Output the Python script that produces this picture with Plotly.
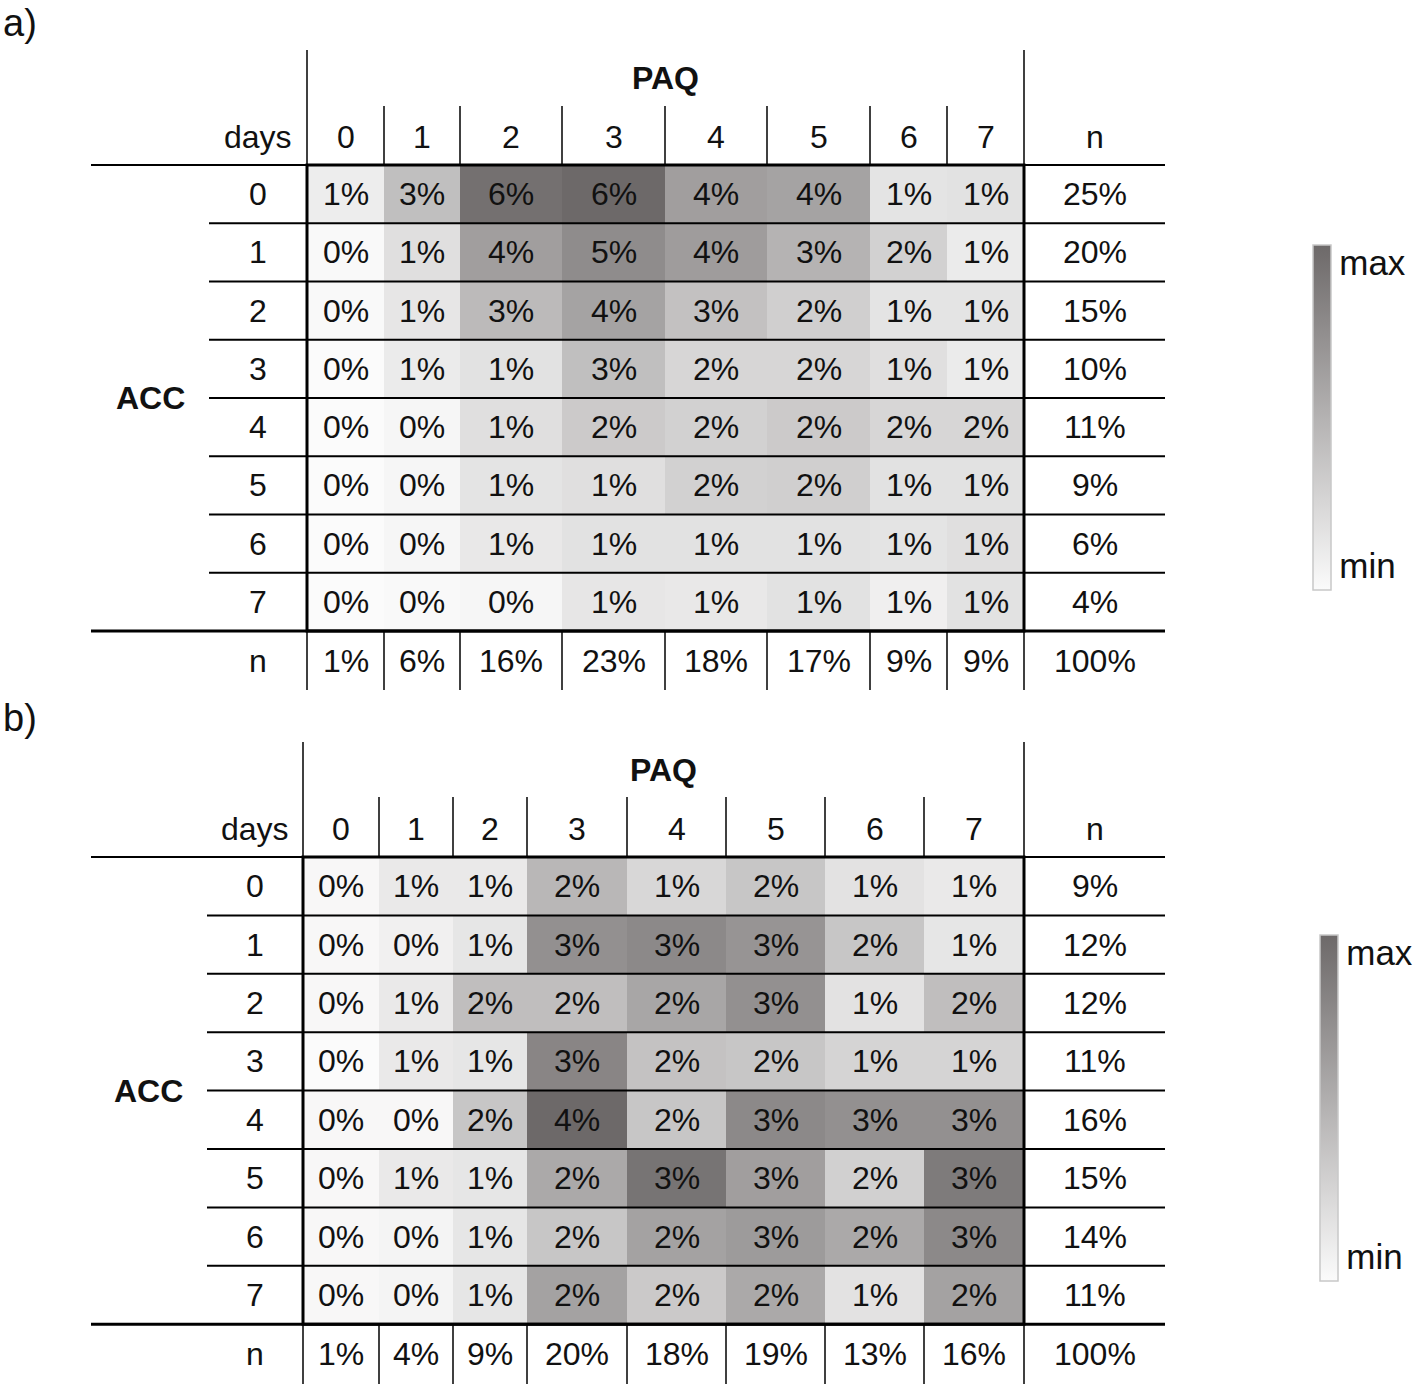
import plotly.graph_objects as go

# ── data ─────────────────────────────────────────────────────────────────────
days = ["0", "1", "2", "3", "4", "5", "6", "7"]

# panel a: ACC days (rows) x PAQ days (columns), shown percentages
pct_a = [
    [1, 3, 6, 6, 4, 4, 1, 1],
    [0, 1, 4, 5, 4, 3, 2, 1],
    [0, 1, 3, 4, 3, 2, 1, 1],
    [0, 1, 1, 3, 2, 2, 1, 1],
    [0, 0, 1, 2, 2, 2, 2, 2],
    [0, 0, 1, 1, 2, 2, 1, 1],
    [0, 0, 1, 1, 1, 1, 1, 1],
    [0, 0, 0, 1, 1, 1, 1, 1],
]
# unrounded values estimated from the grey level of each cell
shade_a = [
    [0.8, 2.8, 6.2, 6.5, 4.2, 4.0, 1.2, 1.3],
    [0.3, 1.4, 4.2, 5.0, 4.3, 3.3, 2.0, 0.9],
    [0.3, 1.1, 3.0, 4.0, 2.7, 2.1, 1.2, 1.2],
    [0.2, 0.9, 1.3, 2.8, 1.8, 1.8, 1.4, 0.9],
    [0.2, 0.4, 1.4, 2.3, 2.0, 2.3, 1.8, 1.8],
    [0.2, 0.4, 1.2, 1.4, 2.0, 2.1, 1.3, 1.3],
    [0.2, 0.4, 1.0, 1.3, 1.3, 1.3, 1.2, 1.4],
    [0.2, 0.3, 0.4, 1.1, 1.0, 1.3, 0.7, 1.3],
]
row_n_a = [25, 20, 15, 10, 11, 9, 6, 4]
col_n_a = [1, 6, 16, 23, 18, 17, 9, 9]

# panel b
pct_b = [
    [0, 1, 1, 2, 1, 2, 1, 1],
    [0, 0, 1, 3, 3, 3, 2, 1],
    [0, 1, 2, 2, 2, 3, 1, 2],
    [0, 1, 1, 3, 2, 2, 1, 1],
    [0, 0, 2, 4, 2, 3, 3, 3],
    [0, 1, 1, 2, 3, 3, 2, 3],
    [0, 0, 1, 2, 2, 3, 2, 3],
    [0, 0, 1, 2, 2, 2, 1, 2],
]
shade_b = [
    [0.2, 0.6, 0.6, 2.0, 1.1, 1.6, 0.8, 0.6],
    [0.2, 0.4, 0.7, 3.1, 3.3, 3.0, 1.6, 0.7],
    [0.2, 0.6, 1.8, 1.8, 2.5, 3.1, 0.8, 1.8],
    [0.1, 0.6, 0.7, 3.4, 1.7, 1.6, 1.2, 1.2],
    [0.2, 0.2, 1.6, 4.2, 1.6, 3.3, 3.1, 3.1],
    [0.2, 0.6, 0.7, 2.4, 3.9, 2.7, 1.3, 3.7],
    [0.2, 0.3, 0.7, 1.6, 2.6, 2.8, 2.4, 3.3],
    [0.2, 0.3, 0.7, 2.6, 1.5, 2.4, 0.8, 2.6],
]
row_n_b = [9, 12, 12, 11, 16, 15, 14, 11]
col_n_b = [1, 4, 9, 20, 18, 19, 13, 16]

total = 100

# ── layout geometry (page pixels) ────────────────────────────────────────────
W, H = 1418, 1384
FONT = "Liberation Sans, Arial, sans-serif"
GREYS = [[0, "#fbfbfb"], [1, "#6d6969"]]

panels = [
    dict(label="a)", label_y=23, pct=pct_a, shade=shade_a, row_n=row_n_a, col_n=col_n_a,
         top=50, head_div=106, head_bot=165, row_h=58.25, n_bot=690,
         cols=[307, 384, 460, 562, 665, 767, 870, 947, 1024],
         n_right=1165, left_outer=91, left_inner=209, row_lab_x=258, acc_x=150,
         paq_y=78, head_y=137, days_x=294, cbar_x=1313, cbar_top=245, cbar_len=345),
    dict(label="b)", label_y=718, pct=pct_b, shade=shade_b, row_n=row_n_b, col_n=col_n_b,
         top=742, head_div=797, head_bot=857, row_h=58.4, n_bot=1384,
         cols=[303, 379, 453, 527, 627, 726, 825, 924, 1024],
         n_right=1165, left_outer=91, left_inner=207, row_lab_x=255, acc_x=148,
         paq_y=770, head_y=829, days_x=291, cbar_x=1320, cbar_top=935, cbar_len=346),
]

fig = go.Figure()
shapes = []
notes = []


def line(x0, y0, x1, y1, w=1.5):
    shapes.append(dict(type="line", xref="x", yref="y", x0=x0, y0=y0, x1=x1, y1=y1,
                       line=dict(color="black", width=w)))


def note(x, y, text, size=32, bold=False, xanchor="center"):
    if bold:
        text = f"<b>{text}</b>"
    notes.append(dict(x=x, y=y, xref="x", yref="y", text=text, showarrow=False,
                      xanchor=xanchor, yanchor="middle",
                      font=dict(family=FONT, size=size, color="#111")))


for p in panels:
    cols = p["cols"]
    rows = [p["head_bot"] + i * p["row_h"] for i in range(len(days) + 1)]
    grid_bot = rows[-1]
    zmin = min(min(r) for r in p["shade"])
    zmax = max(max(r) for r in p["shade"])

    fig.add_trace(go.Heatmap(
        x=cols, y=rows, z=p["shade"],
        text=p["pct"], texttemplate="%{text}%",
        textfont=dict(family=FONT, size=32, color="#111"),
        colorscale=GREYS, zmin=zmin, zmax=zmax, hoverinfo="skip",
        colorbar=dict(
            x=p["cbar_x"] / W, xanchor="left", xpad=0,
            y=1 - p["cbar_top"] / H, yanchor="top", ypad=0,
            len=p["cbar_len"], lenmode="pixels", thickness=18,
            outlinecolor="#c8c8c8", outlinewidth=1.5,
            tickvals=[zmin + 0.07 * (zmax - zmin), zmin + 0.95 * (zmax - zmin)],
            ticktext=["min", "max"], ticks="",
            tickfont=dict(family=FONT, size=35, color="#111"),
        ),
    ))

    # header
    note(20, p["label_y"], p["label"], size=38)
    note((cols[0] + cols[-1]) / 2, p["paq_y"], "PAQ", size=32, bold=True)
    note(p["days_x"], p["head_y"], "days", xanchor="right")
    for i, d in enumerate(days):
        note((cols[i] + cols[i + 1]) / 2, p["head_y"], d)
    note((cols[-1] + p["n_right"]) / 2, p["head_y"], "n")

    # row labels and row totals
    for i, d in enumerate(days):
        yc = (rows[i] + rows[i + 1]) / 2
        note(p["row_lab_x"], yc, d)
        note((cols[-1] + p["n_right"]) / 2, yc, f"{p['row_n'][i]}%")
    note(p["acc_x"], rows[4], "ACC", size=32, bold=True)

    # bottom totals row
    yc = (grid_bot + p["n_bot"]) / 2
    note(p["row_lab_x"], yc, "n")
    for i, v in enumerate(p["col_n"]):
        note((cols[i] + cols[i + 1]) / 2, yc, f"{v}%")
    note((cols[-1] + p["n_right"]) / 2, yc, f"{total}%")

    # rules
    line(cols[0], p["top"], cols[0], p["n_bot"])
    line(cols[-1], p["top"], cols[-1], p["n_bot"])
    for x in cols[1:-1]:
        line(x, p["head_div"], x, p["head_bot"])
        line(x, grid_bot, x, p["n_bot"])
    line(p["left_outer"], p["head_bot"], p["n_right"], p["head_bot"], 2)
    for y in rows[1:-1]:
        line(p["left_inner"], y, p["n_right"], y, 2)
    line(p["left_outer"], grid_bot, p["n_right"], grid_bot, 3)
    shapes.append(dict(type="rect", xref="x", yref="y", x0=cols[0], x1=cols[-1],
                       y0=p["head_bot"], y1=grid_bot, line=dict(color="black", width=3)))

fig.update_layout(
    width=W, height=H, margin=dict(l=0, r=0, t=0, b=0),
    paper_bgcolor="white", plot_bgcolor="white",
    xaxis=dict(range=[0, W], visible=False, fixedrange=True),
    yaxis=dict(range=[H, 0], visible=False, fixedrange=True),
    shapes=shapes, annotations=notes, showlegend=False,
)

fig.write_html("out.html", config={"displayModeBar": False},
               post_script="document.body.style.margin='0';")
